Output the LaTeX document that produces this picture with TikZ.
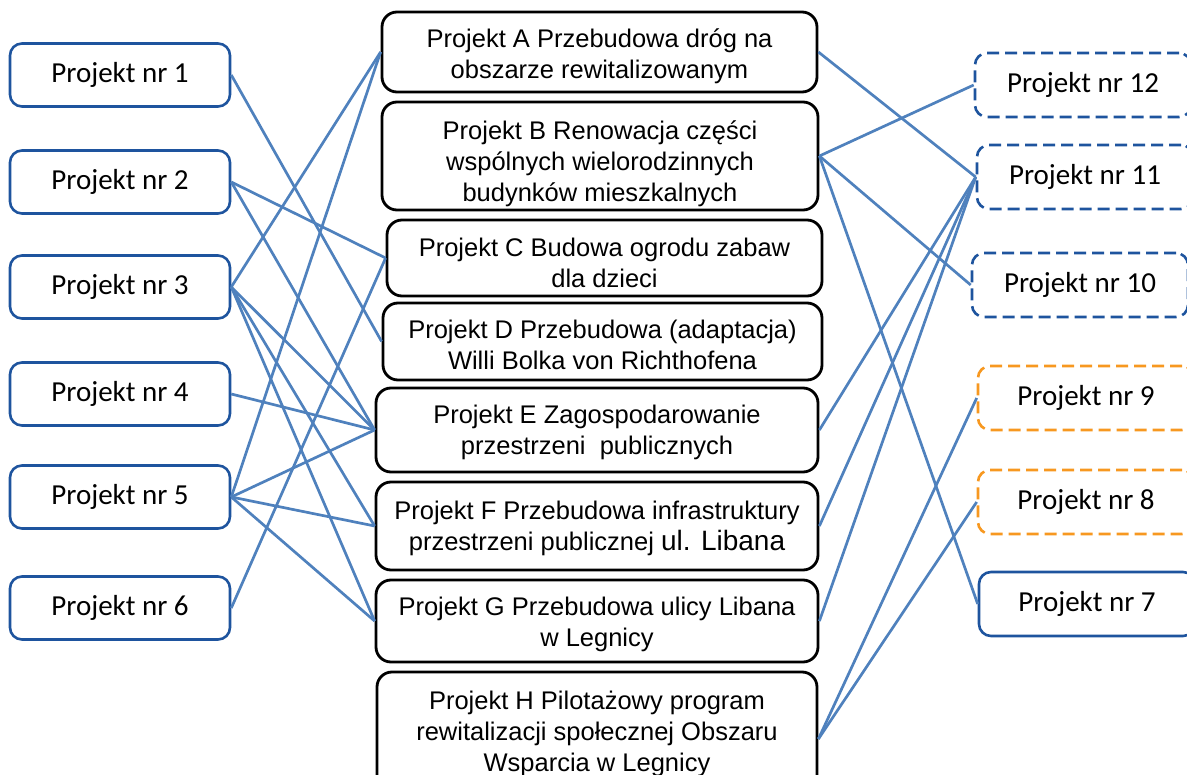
\documentclass[tikz,border=0pt]{standalone}
\usepackage{fontspec}
\setmainfont{Liberation Sans}
\newfontfamily\calfont{Carlito}
\definecolor{boxblue}{RGB}{30,84,158}
\definecolor{linkblue}{RGB}{79,129,189}
\definecolor{boxorange}{RGB}{247,152,32}
\begin{document}
\begin{tikzpicture}[x=1pt,y=-1pt,
  sidebox/.style={draw=boxblue,line width=2.6pt,rounded corners=12pt,minimum width=220pt,minimum height=63pt,inner sep=0pt,font=\calfont\fontsize{29}{33}\selectfont,fill=white},
  rightbox/.style={sidebox,minimum width=216pt,minimum height=64pt},
  dashbox/.style={rightbox,dash pattern=on 12pt off 6pt},
  orangebox/.style={dashbox,draw=boxorange},
  midbox/.style={draw=black,line width=2.8pt,rounded corners=15pt,inner sep=0pt,fill=white},
  midtext/.style={inner sep=0pt,align=center,font=\fontsize{25.5}{31}\selectfont},
  link/.style={draw=linkblue,line width=2.7pt}]
\useasboundingbox (0,0) rectangle (1187,775);
% left boxes
\node[sidebox] (p1) at (120,75) {Projekt nr 1};
\node[sidebox] (p2) at (120,182) {Projekt nr 2};
\node[sidebox] (p3) at (120,287) {Projekt nr 3};
\node[sidebox] (p4) at (120,394) {Projekt nr 4};
\node[sidebox] (p5) at (120,497) {Projekt nr 5};
\node[sidebox] (p6) at (120,608) {Projekt nr 6};
% right boxes
\node[dashbox] (p12) at (1083,85) {Projekt nr 12};
\node[dashbox] (p11) at (1085,177) {Projekt nr 11};
\node[dashbox] (p10) at (1080,285) {Projekt nr 10};
\node[orangebox] (p9) at (1086,398) {Projekt nr 9};
\node[orangebox] (p8) at (1086,502) {Projekt nr 8};
\node[rightbox] (p7) at (1087,604) {Projekt nr 7};
% middle boxes
\node[midbox,minimum width=435pt,minimum height=80pt] (a) at (599.5,52) {};
\node[midbox,minimum width=436pt,minimum height=108pt] (b) at (600,156) {};
\node[midbox,minimum width=435pt,minimum height=76pt] (c) at (604.5,258) {};
\node[midbox,minimum width=439pt,minimum height=77pt] (d) at (602.5,341.5) {};
\node[midbox,minimum width=442pt,minimum height=84pt] (e) at (597,430) {};
\node[midbox,minimum width=442pt,minimum height=88pt] (f) at (597,526) {};
\node[midbox,minimum width=442pt,minimum height=82pt] (g) at (597,621) {};
\node[midbox,minimum width=440pt,minimum height=118pt] (h) at (597,731) {};
\node[midtext] (at) at ([yshift=-4pt]a.center) {Projekt A Przebudowa dróg na\\obszarze rewitalizowanym};
\node[midtext] (bt) at ([yshift=-8pt]b.center) {Projekt B Renowacja części\\wspólnych wielorodzinnych\\budynków mieszkalnych};
\node[midtext] (ct) at ([yshift=-5pt]c.center) {Projekt C Budowa ogrodu zabaw\\dla dzieci};
\node[midtext] (dt) at ([yshift=-3pt]d.center) {Projekt D Przebudowa (adaptacja)\\Willi Bolka von Richthofena};
\node[midtext] (et) at ([yshift=-2pt]e.center) {Projekt E Zagospodarowanie\\przestrzeni\ \ publicznych};
\node[midtext] (ft) at ([yshift=-2pt]f.center) {Projekt F Przebudowa infrastruktury\\przestrzeni publicznej {\fontsize{28}{31}\selectfont ul. Libana}};
\node[midtext] (gt) at ([yshift=-3pt]g.center) {Projekt G Przebudowa ulicy Libana\\w Legnicy};
\node[midtext] (ht) at ([yshift=-3pt]h.center) {Projekt H Pilotażowy program\\rewitalizacji społecznej Obszaru\\Wsparcia w Legnicy};
% left links
\draw[link] (p1.east) -- (d.west);
\draw[link] (p2.east) -- (c.west);
\draw[link] (p2.east) -- (e.west);
\draw[link] (p3.east) -- (a.west);
\draw[link] (p3.east) -- (e.west);
\draw[link] (p3.east) -- (f.west);
\draw[link] (p3.east) -- (g.west);
\draw[link] (p4.east) -- (e.west);
\draw[link] (p5.east) -- (a.west);
\draw[link] (p5.east) -- (e.west);
\draw[link] (p5.east) -- (f.west);
\draw[link] (p5.east) -- (g.west);
\draw[link] (p6.east) -- (c.west);
% right links
\draw[link] (a.east) -- (p11.west);
\draw[link] (b.east) -- (p12.west);
\draw[link] (b.east) -- (p10.west);
\draw[link] (b.east) -- (p7.west);
\draw[link] (e.east) -- (p11.west);
\draw[link] (f.east) -- (p11.west);
\draw[link] (g.east) -- (p11.west);
\draw[link] ([yshift=-8pt]h.east) -- (p9.west);
\draw[link] ([yshift=-8pt]h.east) -- (p8.west);
\end{tikzpicture}
\end{document}
